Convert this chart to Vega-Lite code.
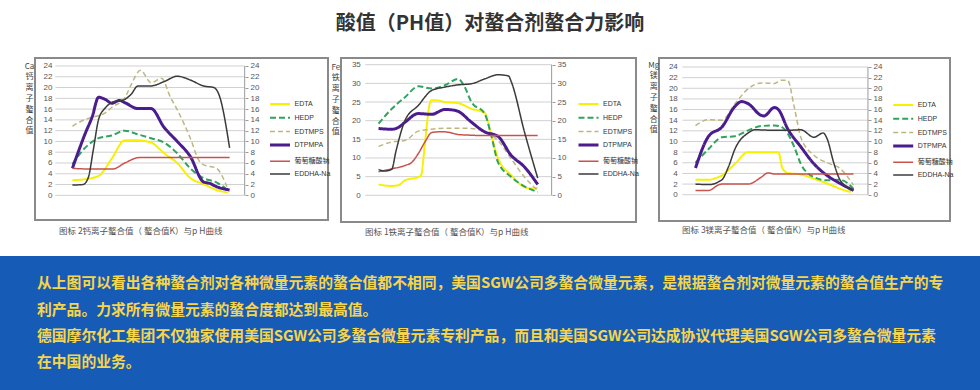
{
  "$schema": "https://vega.github.io/schema/vega-lite/v6.json",
  "background": "white",
  "autosize": "pad",
  "padding": {"top": 14, "left": 0, "right": 0, "bottom": 0},
  "title": {"text": "酸值（PH值）对螯合剂螯合力影响", "fontSize": 20, "font": "Noto Sans CJK SC", "fontWeight": "bold", "color": "#333333", "anchor": "middle", "offset": 23},
  "config": {
    "view": {"stroke": "#8a8a8a", "strokeWidth": 2, "fill": "white"},
    "axis": {"labelFont": "Liberation Sans", "labelFontSize": 8, "labelColor": "#555555", "tickColor": "#9a9a9a", "domainColor": "#9a9a9a", "titleFont": "Noto Sans CJK SC", "titleFontWeight": "normal", "titleColor": "#444444", "grid": false}
  },
  "datasets": {
    "g24": [{"g":0},{"g":2},{"g":4},{"g":6},{"g":8},{"g":10},{"g":12},{"g":14},{"g":16},{"g":18},{"g":20},{"g":22},{"g":24}],
    "g35": [{"g":0},{"g":5},{"g":10},{"g":15},{"g":20},{"g":25},{"g":30},{"g":35}],
    "ca": [
      {"s":"EDTA","ph":1,"v":2.8},{"s":"EDTA","ph":2,"v":3.0},{"s":"EDTA","ph":3,"v":3.6},{"s":"EDTA","ph":4,"v":6.8},{"s":"EDTA","ph":5,"v":10.2},{"s":"EDTA","ph":6,"v":10.2},{"s":"EDTA","ph":7,"v":9.8},{"s":"EDTA","ph":8,"v":7.8},{"s":"EDTA","ph":9,"v":6.0},{"s":"EDTA","ph":10,"v":3.2},{"s":"EDTA","ph":11,"v":2.1},{"s":"EDTA","ph":12,"v":1.0},{"s":"EDTA","ph":12.9,"v":0.5},
      {"s":"HEDP","ph":1,"v":5.8},{"s":"HEDP","ph":2,"v":8.9},{"s":"HEDP","ph":3,"v":10.6},{"s":"HEDP","ph":4,"v":11.1},{"s":"HEDP","ph":5,"v":12.0},{"s":"HEDP","ph":6,"v":11.3},{"s":"HEDP","ph":7,"v":10.6},{"s":"HEDP","ph":8,"v":9.8},{"s":"HEDP","ph":9,"v":7.8},{"s":"HEDP","ph":10,"v":5.0},{"s":"HEDP","ph":11,"v":3.2},{"s":"HEDP","ph":12,"v":2.4},{"s":"HEDP","ph":13,"v":0.7},
      {"s":"EDTMPS","ph":1,"v":12.8},{"s":"EDTMPS","ph":2,"v":14.1},{"s":"EDTMPS","ph":2.6,"v":14.5},{"s":"EDTMPS","ph":3.5,"v":15.3},{"s":"EDTMPS","ph":4,"v":16.3},{"s":"EDTMPS","ph":5,"v":18.1},{"s":"EDTMPS","ph":5.5,"v":20.6},{"s":"EDTMPS","ph":6.2,"v":23.2},{"s":"EDTMPS","ph":7,"v":20.9},{"s":"EDTMPS","ph":7.8,"v":21.7},{"s":"EDTMPS","ph":8.5,"v":18.1},{"s":"EDTMPS","ph":9,"v":15.9},{"s":"EDTMPS","ph":10,"v":10.6},{"s":"EDTMPS","ph":10.7,"v":6.3},{"s":"EDTMPS","ph":11,"v":5.7},{"s":"EDTMPS","ph":12,"v":5.0},{"s":"EDTMPS","ph":12.8,"v":1.6},
      {"s":"DTPMPA","ph":1,"v":5.0},{"s":"DTPMPA","ph":2,"v":11.6},{"s":"DTPMPA","ph":2.5,"v":14.5},{"s":"DTPMPA","ph":3,"v":18.2},{"s":"DTPMPA","ph":3.5,"v":17.8},{"s":"DTPMPA","ph":4,"v":17.1},{"s":"DTPMPA","ph":4.6,"v":17.6},{"s":"DTPMPA","ph":5,"v":17.2},{"s":"DTPMPA","ph":6,"v":16.1},{"s":"DTPMPA","ph":7,"v":16.1},{"s":"DTPMPA","ph":8,"v":12.6},{"s":"DTPMPA","ph":9,"v":10.0},{"s":"DTPMPA","ph":10,"v":7.2},{"s":"DTPMPA","ph":11,"v":2.5},{"s":"DTPMPA","ph":11.5,"v":2.2},{"s":"DTPMPA","ph":12,"v":1.6},{"s":"DTPMPA","ph":13,"v":1.0},
      {"s":"葡萄糖酸钠","ph":1,"v":5.0},{"s":"葡萄糖酸钠","ph":2,"v":4.9},{"s":"葡萄糖酸钠","ph":3,"v":4.9},{"s":"葡萄糖酸钠","ph":4.1,"v":4.9},{"s":"葡萄糖酸钠","ph":5,"v":6.0},{"s":"葡萄糖酸钠","ph":6.1,"v":7.0},{"s":"葡萄糖酸钠","ph":7,"v":7.0},{"s":"葡萄糖酸钠","ph":8,"v":7.0},{"s":"葡萄糖酸钠","ph":9,"v":7.0},{"s":"葡萄糖酸钠","ph":10,"v":7.0},{"s":"葡萄糖酸钠","ph":11,"v":7.0},{"s":"葡萄糖酸钠","ph":12,"v":7.0},{"s":"葡萄糖酸钠","ph":13,"v":7.0},
      {"s":"EDDHA-Na","ph":1,"v":1.9},{"s":"EDDHA-Na","ph":1.8,"v":2.0},{"s":"EDDHA-Na","ph":2.2,"v":3.2},{"s":"EDDHA-Na","ph":2.6,"v":8.5},{"s":"EDDHA-Na","ph":3,"v":14.1},{"s":"EDDHA-Na","ph":3.5,"v":16.2},{"s":"EDDHA-Na","ph":4,"v":17.2},{"s":"EDDHA-Na","ph":5,"v":17.8},{"s":"EDDHA-Na","ph":5.5,"v":18.8},{"s":"EDDHA-Na","ph":6,"v":20.3},{"s":"EDDHA-Na","ph":7,"v":20.3},{"s":"EDDHA-Na","ph":8,"v":21.1},{"s":"EDDHA-Na","ph":9,"v":22.1},{"s":"EDDHA-Na","ph":10,"v":21.4},{"s":"EDDHA-Na","ph":11,"v":20.3},{"s":"EDDHA-Na","ph":11.8,"v":20.0},{"s":"EDDHA-Na","ph":12.2,"v":18.6},{"s":"EDDHA-Na","ph":13,"v":8.8}
    ],
    "fe": [
      {"s":"EDTA","ph":1,"v":2.9},{"s":"EDTA","ph":2,"v":2.5},{"s":"EDTA","ph":2.5,"v":2.7},{"s":"EDTA","ph":3,"v":4.0},{"s":"EDTA","ph":4,"v":4.9},{"s":"EDTA","ph":4.2,"v":5.3},{"s":"EDTA","ph":4.5,"v":14.0},{"s":"EDTA","ph":4.8,"v":23.5},{"s":"EDTA","ph":5,"v":25.5},{"s":"EDTA","ph":5.5,"v":25.4},{"s":"EDTA","ph":6,"v":25.0},{"s":"EDTA","ph":7,"v":24.7},{"s":"EDTA","ph":8,"v":23.2},{"s":"EDTA","ph":9,"v":22.1},{"s":"EDTA","ph":9.5,"v":16.1},{"s":"EDTA","ph":10,"v":10.0},{"s":"EDTA","ph":11,"v":5.4},{"s":"EDTA","ph":12,"v":2.2},{"s":"EDTA","ph":12.5,"v":1.8},{"s":"EDTA","ph":13,"v":2.0},
      {"s":"HEDP","ph":1,"v":19.2},{"s":"HEDP","ph":2,"v":23.2},{"s":"HEDP","ph":3,"v":26.3},{"s":"HEDP","ph":4,"v":29.2},{"s":"HEDP","ph":5,"v":28.6},{"s":"HEDP","ph":6,"v":29.5},{"s":"HEDP","ph":7,"v":31.2},{"s":"HEDP","ph":7.5,"v":29.0},{"s":"HEDP","ph":8,"v":25.0},{"s":"HEDP","ph":9,"v":21.9},{"s":"HEDP","ph":9.5,"v":16.0},{"s":"HEDP","ph":10,"v":8.9},{"s":"HEDP","ph":11,"v":4.9},{"s":"HEDP","ph":12,"v":2.4},{"s":"HEDP","ph":13,"v":0.9},
      {"s":"EDTMPS","ph":1,"v":13.1},{"s":"EDTMPS","ph":2,"v":14.3},{"s":"EDTMPS","ph":3,"v":14.7},{"s":"EDTMPS","ph":4,"v":17.2},{"s":"EDTMPS","ph":5,"v":17.7},{"s":"EDTMPS","ph":6,"v":18.0},{"s":"EDTMPS","ph":7,"v":18.0},{"s":"EDTMPS","ph":8,"v":17.9},{"s":"EDTMPS","ph":9,"v":17.0},{"s":"EDTMPS","ph":10,"v":14.7},{"s":"EDTMPS","ph":11,"v":9.8},{"s":"EDTMPS","ph":12,"v":4.9},{"s":"EDTMPS","ph":13,"v":1.3},
      {"s":"DTPMPA","ph":1,"v":17.9},{"s":"DTPMPA","ph":2,"v":17.7},{"s":"DTPMPA","ph":2.5,"v":18.2},{"s":"DTPMPA","ph":3,"v":19.6},{"s":"DTPMPA","ph":4,"v":21.9},{"s":"DTPMPA","ph":5,"v":21.7},{"s":"DTPMPA","ph":6,"v":23.0},{"s":"DTPMPA","ph":6.5,"v":22.9},{"s":"DTPMPA","ph":7,"v":22.5},{"s":"DTPMPA","ph":8,"v":19.6},{"s":"DTPMPA","ph":9,"v":17.0},{"s":"DTPMPA","ph":10,"v":15.8},{"s":"DTPMPA","ph":11,"v":10.7},{"s":"DTPMPA","ph":12,"v":7.6},{"s":"DTPMPA","ph":13,"v":2.9},
      {"s":"葡萄糖酸钠","ph":1,"v":6.3},{"s":"葡萄糖酸钠","ph":2,"v":7.1},{"s":"葡萄糖酸钠","ph":3,"v":8.0},{"s":"葡萄糖酸钠","ph":3.5,"v":8.8},{"s":"葡萄糖酸钠","ph":4,"v":11.2},{"s":"葡萄糖酸钠","ph":4.5,"v":14.3},{"s":"葡萄糖酸钠","ph":5,"v":16.8},{"s":"葡萄糖酸钠","ph":5.5,"v":17.0},{"s":"葡萄糖酸钠","ph":6,"v":17.0},{"s":"葡萄糖酸钠","ph":7,"v":16.3},{"s":"葡萄糖酸钠","ph":8,"v":16.1},{"s":"葡萄糖酸钠","ph":9,"v":16.0},{"s":"葡萄糖酸钠","ph":10,"v":16.0},{"s":"葡萄糖酸钠","ph":11,"v":16.0},{"s":"葡萄糖酸钠","ph":12,"v":16.0},{"s":"葡萄糖酸钠","ph":13,"v":16.0},
      {"s":"EDDHA-Na","ph":1,"v":6.9},{"s":"EDDHA-Na","ph":1.5,"v":6.5},{"s":"EDDHA-Na","ph":2,"v":7.0},{"s":"EDDHA-Na","ph":2.3,"v":11.6},{"s":"EDDHA-Na","ph":3,"v":20.1},{"s":"EDDHA-Na","ph":4,"v":24.1},{"s":"EDDHA-Na","ph":5,"v":28.1},{"s":"EDDHA-Na","ph":6,"v":29.0},{"s":"EDDHA-Na","ph":7,"v":29.6},{"s":"EDDHA-Na","ph":8,"v":29.9},{"s":"EDDHA-Na","ph":9,"v":31.2},{"s":"EDDHA-Na","ph":10,"v":32.3},{"s":"EDDHA-Na","ph":10.8,"v":32.0},{"s":"EDDHA-Na","ph":11,"v":30.5},{"s":"EDDHA-Na","ph":12,"v":17.0},{"s":"EDDHA-Na","ph":13,"v":4.6}
    ],
    "mg": [
      {"s":"EDTA","ph":1,"v":2.8},{"s":"EDTA","ph":2,"v":2.8},{"s":"EDTA","ph":2.5,"v":3.1},{"s":"EDTA","ph":3,"v":3.6},{"s":"EDTA","ph":4,"v":5.8},{"s":"EDTA","ph":5,"v":8.0},{"s":"EDTA","ph":6,"v":8.0},{"s":"EDTA","ph":7,"v":8.0},{"s":"EDTA","ph":7.3,"v":8.0},{"s":"EDTA","ph":7.6,"v":5.0},{"s":"EDTA","ph":8,"v":4.1},{"s":"EDTA","ph":9,"v":3.8},{"s":"EDTA","ph":10,"v":3.0},{"s":"EDTA","ph":11,"v":2.1},{"s":"EDTA","ph":12,"v":1.1},{"s":"EDTA","ph":12.8,"v":0.5},
      {"s":"HEDP","ph":1,"v":6.0},{"s":"HEDP","ph":2,"v":8.6},{"s":"HEDP","ph":3,"v":10.8},{"s":"HEDP","ph":4,"v":11.0},{"s":"HEDP","ph":5,"v":12.1},{"s":"HEDP","ph":6,"v":12.9},{"s":"HEDP","ph":7,"v":13.0},{"s":"HEDP","ph":7.5,"v":12.8},{"s":"HEDP","ph":8,"v":11.5},{"s":"HEDP","ph":8.5,"v":9.0},{"s":"HEDP","ph":9,"v":5.8},{"s":"HEDP","ph":10,"v":3.3},{"s":"HEDP","ph":11,"v":2.7},{"s":"HEDP","ph":12,"v":2.8},{"s":"HEDP","ph":13,"v":1.1},
      {"s":"EDTMPS","ph":1,"v":13.0},{"s":"EDTMPS","ph":2,"v":14.1},{"s":"EDTMPS","ph":3,"v":14.0},{"s":"EDTMPS","ph":4,"v":17.1},{"s":"EDTMPS","ph":5,"v":19.9},{"s":"EDTMPS","ph":6,"v":21.0},{"s":"EDTMPS","ph":7,"v":20.9},{"s":"EDTMPS","ph":7.5,"v":21.5},{"s":"EDTMPS","ph":8,"v":21.5},{"s":"EDTMPS","ph":8.5,"v":16.5},{"s":"EDTMPS","ph":9,"v":10.8},{"s":"EDTMPS","ph":10,"v":7.4},{"s":"EDTMPS","ph":11,"v":6.0},{"s":"EDTMPS","ph":12,"v":4.9},{"s":"EDTMPS","ph":13,"v":1.8},
      {"s":"DTPMPA","ph":1,"v":5.0},{"s":"DTPMPA","ph":2,"v":11.0},{"s":"DTPMPA","ph":3,"v":12.7},{"s":"DTPMPA","ph":4,"v":16.6},{"s":"DTPMPA","ph":4.5,"v":17.5},{"s":"DTPMPA","ph":5,"v":17.1},{"s":"DTPMPA","ph":6,"v":14.9},{"s":"DTPMPA","ph":6.2,"v":14.8},{"s":"DTPMPA","ph":7,"v":16.4},{"s":"DTPMPA","ph":7.3,"v":16.0},{"s":"DTPMPA","ph":8,"v":12.4},{"s":"DTPMPA","ph":9,"v":9.0},{"s":"DTPMPA","ph":10,"v":5.8},{"s":"DTPMPA","ph":11,"v":3.6},{"s":"DTPMPA","ph":12,"v":2.1},{"s":"DTPMPA","ph":13,"v":0.8},
      {"s":"葡萄糖酸钠","ph":1,"v":0.8},{"s":"葡萄糖酸钠","ph":2,"v":0.8},{"s":"葡萄糖酸钠","ph":2.8,"v":1.9},{"s":"葡萄糖酸钠","ph":3,"v":2.0},{"s":"葡萄糖酸钠","ph":4,"v":2.0},{"s":"葡萄糖酸钠","ph":5,"v":2.0},{"s":"葡萄糖酸钠","ph":6,"v":3.3},{"s":"葡萄糖酸钠","ph":6.5,"v":4.1},{"s":"葡萄糖酸钠","ph":7,"v":3.9},{"s":"葡萄糖酸钠","ph":8,"v":3.9},{"s":"葡萄糖酸钠","ph":9,"v":3.9},{"s":"葡萄糖酸钠","ph":10,"v":3.9},{"s":"葡萄糖酸钠","ph":11,"v":3.9},{"s":"葡萄糖酸钠","ph":12,"v":3.9},{"s":"葡萄糖酸钠","ph":13,"v":3.9},
      {"s":"EDDHA-Na","ph":1,"v":2.0},{"s":"EDDHA-Na","ph":2,"v":1.9},{"s":"EDDHA-Na","ph":3,"v":2.8},{"s":"EDDHA-Na","ph":3.5,"v":5.2},{"s":"EDDHA-Na","ph":4,"v":8.6},{"s":"EDDHA-Na","ph":5,"v":11.6},{"s":"EDDHA-Na","ph":5.5,"v":12.2},{"s":"EDDHA-Na","ph":7,"v":12.1},{"s":"EDDHA-Na","ph":8,"v":12.1},{"s":"EDDHA-Na","ph":9,"v":12.2},{"s":"EDDHA-Na","ph":10,"v":10.8},{"s":"EDDHA-Na","ph":10.7,"v":11.6},{"s":"EDDHA-Na","ph":11,"v":10.5},{"s":"EDDHA-Na","ph":11.5,"v":6.0},{"s":"EDDHA-Na","ph":12,"v":2.7},{"s":"EDDHA-Na","ph":13,"v":0.8}
    ]
  },
  "vconcat": [
    {
      "hconcat": [
        {"width": 35, "height": 10, "view": {"stroke": null, "fill": null}, "data": {"values": []}, "mark": "point"},
        {
          "width": 293, "height": 162,
          "title": {"text": "图标 2钙离子螯合值（ 螯合值K）与p H曲线", "orient": "bottom", "anchor": "start", "frame": "group", "dx": 24, "offset": 11, "baseline": "middle", "fontSize": 8.5, "fontWeight": "normal", "color": "#555555", "font": "Noto Sans CJK SC"},
          "layer": [
            {"data": {"name": "g24"}, "mark": {"type": "rule", "color": "#d0d0d0", "strokeWidth": 1},
             "encoding": {
               "y": {"field": "g", "type": "quantitative", "scale": {"domain": [-4.58, 25.48], "nice": false, "zero": false}, "axis": {"orient": "right", "offset": -83, "values": [0,2,4,6,8,10,12,14,16,18,20,22,24], "domain": false, "ticks": true, "tickSize": 3, "labelPadding": 2, "title": null}},
               "x": {"datum": -0.3, "type": "quantitative", "scale": {"domain": [-1.855, 20.51], "nice": false, "zero": false}, "axis": null},
               "x2": {"datum": 14.15}}},
            {"data": {"values": [{}]}, "mark": {"type": "rule", "color": "#9a9a9a", "strokeWidth": 1},
             "encoding": {"x": {"datum": 14.15, "type": "quantitative", "axis": null}, "y": {"datum": 0, "type": "quantitative", "axis": null}, "y2": {"datum": 24}}},
            {"data": {"name": "ca"}, "mark": {"type": "line", "interpolate": "monotone"},
             "encoding": {
               "x": {"field": "ph", "type": "quantitative", "scale": {"domain": [-1.855, 20.51], "nice": false, "zero": false},
                     "axis": {"orient": "bottom", "offset": -24.7, "values": [0,1,2,3,4,5,6,7,8,9,10,11,12,13,14], "domain": false, "ticks": true, "tickSize": 3, "labelPadding": 3, "title": "pH值", "titleX": 218, "titleY": 12.4, "titleAlign": "left", "titleBaseline": "middle", "titleFontSize": 9, "titleColor": "#555555"}},
               "y": {"field": "v", "type": "quantitative", "scale": {"domain": [-4.58, 25.48], "nice": false, "zero": false},
                     "axis": {"orient": "left", "offset": -20, "values": [0,2,4,6,8,10,12,14,16,18,20,22,24], "domain": false, "ticks": false, "labelPadding": 3, "title": ["Ca", "钙", "离", "子", "螯", "合", "值"], "titleAngle": 0, "titleX": -26, "titleY": 4, "titleAlign": "center", "titleBaseline": "top", "titleLineHeight": 10.8, "titleFontSize": 8}},
               "color": {"field": "s", "type": "nominal", "scale": {"domain": ["EDTA","HEDP","EDTMPS","DTPMPA","葡萄糖酸钠","EDDHA-Na"], "range": ["#F7F000","#2FA35F","#BDB77F","#4B1C8E","#C8524C","#3B3B3B"]},
                         "legend": {"title": null, "orient": "none", "legendX": 238.5, "legendY": 40, "symbolType": "M-2,0H2", "symbolSize": 100, "labelFont": "Liberation Sans, Noto Sans CJK SC", "labelFontSize": 7, "labelColor": "#333333", "labelOffset": 8, "rowPadding": 3.8, "padding": 0}},
               "strokeDash": {"field": "s", "type": "nominal", "scale": {"domain": ["EDTA","HEDP","EDTMPS","DTPMPA","葡萄糖酸钠","EDDHA-Na"], "range": [[1,0],[6,3],[5,3],[1,0],[1,0],[1,0]]},
                         "legend": {"title": null, "orient": "none", "legendX": 238.5, "legendY": 40, "symbolType": "M-2,0H2", "symbolSize": 100, "labelFont": "Liberation Sans, Noto Sans CJK SC", "labelFontSize": 7, "labelColor": "#333333", "labelOffset": 8, "rowPadding": 3.8, "padding": 0}},
               "strokeWidth": {"field": "s", "type": "nominal", "scale": {"type": "ordinal", "domain": ["EDTA","HEDP","EDTMPS","DTPMPA","葡萄糖酸钠","EDDHA-Na"], "range": [2,2,1.5,3,1.5,1.5]},
                         "legend": {"title": null, "orient": "none", "legendX": 238.5, "legendY": 40, "symbolType": "M-2,0H2", "symbolSize": 100, "labelFont": "Liberation Sans, Noto Sans CJK SC", "labelFontSize": 7, "labelColor": "#333333", "labelOffset": 8, "rowPadding": 3.8, "padding": 0}}
             }}
          ],
          "resolve": {"axis": {"y": "independent"}}
        },
        {"width": 13, "height": 10, "view": {"stroke": null, "fill": null}, "data": {"values": []}, "mark": "point"},
        {
          "width": 295, "height": 164,
          "title": {"text": "图标 1铁离子螯合值（ 螯合值K）与p H曲线", "orient": "bottom", "anchor": "start", "frame": "group", "dx": 24, "offset": 10, "baseline": "middle", "fontSize": 8.5, "fontWeight": "normal", "color": "#555555", "font": "Noto Sans CJK SC"},
          "layer": [
            {"data": {"name": "g35"}, "mark": {"type": "rule", "color": "#d0d0d0", "strokeWidth": 1},
             "encoding": {
               "y": {"field": "g", "type": "quantitative", "scale": {"domain": [-7.16, 36.8], "nice": false, "zero": false}, "axis": {"orient": "right", "offset": -84, "values": [0,5,10,15,20,25,30,35], "domain": false, "ticks": true, "tickSize": 3, "labelPadding": 2, "title": null}},
               "x": {"datum": 0, "type": "quantitative", "scale": {"domain": [-1.83, 20.41], "nice": false, "zero": false}, "axis": null},
               "x2": {"datum": 14.05}}},
            {"data": {"values": [{}]}, "mark": {"type": "rule", "color": "#9a9a9a", "strokeWidth": 1},
             "encoding": {"x": {"datum": 14.05, "type": "quantitative", "axis": null}, "y": {"datum": 0, "type": "quantitative", "axis": null}, "y2": {"datum": 35}}},
            {"data": {"name": "fe"}, "mark": {"type": "line", "interpolate": "monotone"},
             "encoding": {
               "x": {"field": "ph", "type": "quantitative", "scale": {"domain": [-1.83, 20.41], "nice": false, "zero": false},
                     "axis": {"orient": "bottom", "offset": -26.7, "values": [0,1,2,3,4,5,6,7,8,9,10,11,12,13,14], "domain": false, "ticks": true, "tickSize": 3, "labelPadding": 3, "title": "pH值", "titleX": 219, "titleY": 10.7, "titleAlign": "left", "titleBaseline": "middle", "titleFontSize": 9, "titleColor": "#555555"}},
               "y": {"field": "v", "type": "quantitative", "scale": {"domain": [-7.16, 36.8], "nice": false, "zero": false},
                     "axis": {"orient": "left", "offset": -24.3, "values": [0,5,10,15,20,25,30,35], "domain": false, "ticks": false, "labelPadding": 5, "title": ["Fe", "铁", "离", "子", "螯", "合", "值"], "titleAngle": 0, "titleX": -30, "titleY": 5, "titleAlign": "center", "titleBaseline": "top", "titleLineHeight": 10.8, "titleFontSize": 8}},
               "color": {"field": "s", "type": "nominal", "scale": {"domain": ["EDTA","HEDP","EDTMPS","DTPMPA","葡萄糖酸钠","EDDHA-Na"], "range": ["#F7F000","#2FA35F","#BDB77F","#4B1C8E","#C8524C","#3B3B3B"]},
                         "legend": {"title": null, "orient": "none", "legendX": 241, "legendY": 40, "symbolType": "M-2,0H2", "symbolSize": 100, "labelFont": "Liberation Sans, Noto Sans CJK SC", "labelFontSize": 7, "labelColor": "#333333", "labelOffset": 8, "rowPadding": 3.8, "padding": 0}},
               "strokeDash": {"field": "s", "type": "nominal", "scale": {"domain": ["EDTA","HEDP","EDTMPS","DTPMPA","葡萄糖酸钠","EDDHA-Na"], "range": [[1,0],[6,3],[5,3],[1,0],[1,0],[1,0]]},
                         "legend": {"title": null, "orient": "none", "legendX": 241, "legendY": 40, "symbolType": "M-2,0H2", "symbolSize": 100, "labelFont": "Liberation Sans, Noto Sans CJK SC", "labelFontSize": 7, "labelColor": "#333333", "labelOffset": 8, "rowPadding": 3.8, "padding": 0}},
               "strokeWidth": {"field": "s", "type": "nominal", "scale": {"type": "ordinal", "domain": ["EDTA","HEDP","EDTMPS","DTPMPA","葡萄糖酸钠","EDDHA-Na"], "range": [2,2,1.5,3,1.5,1.5]},
                         "legend": {"title": null, "orient": "none", "legendX": 241, "legendY": 40, "symbolType": "M-2,0H2", "symbolSize": 100, "labelFont": "Liberation Sans, Noto Sans CJK SC", "labelFontSize": 7, "labelColor": "#333333", "labelOffset": 8, "rowPadding": 3.8, "padding": 0}}
             }}
          ],
          "resolve": {"axis": {"y": "independent"}}
        },
        {"width": 23, "height": 10, "view": {"stroke": null, "fill": null}, "data": {"values": []}, "mark": "point"},
        {
          "width": 291, "height": 163,
          "title": {"text": "图标 3镁离子螯合值（ 螯合值K）与p H曲线", "orient": "bottom", "anchor": "start", "frame": "group", "dx": 23, "offset": 9, "baseline": "middle", "fontSize": 8.5, "fontWeight": "normal", "color": "#555555", "font": "Noto Sans CJK SC"},
          "layer": [
            {"data": {"name": "g24"}, "mark": {"type": "rule", "color": "#d0d0d0", "strokeWidth": 1},
             "encoding": {
               "y": {"field": "g", "type": "quantitative", "scale": {"domain": [-4.94, 25.69], "nice": false, "zero": false}, "axis": {"orient": "right", "offset": -82, "values": [0,2,4,6,8,10,12,14,16,18,20,22,24], "domain": false, "ticks": true, "tickSize": 3, "labelPadding": 2, "title": null}},
               "x": {"datum": 0, "type": "quantitative", "scale": {"domain": [-1.77, 20.33], "nice": false, "zero": false}, "axis": null},
               "x2": {"datum": 14.1}}},
            {"data": {"values": [{}]}, "mark": {"type": "rule", "color": "#9a9a9a", "strokeWidth": 1},
             "encoding": {"x": {"datum": 14.1, "type": "quantitative", "axis": null}, "y": {"datum": 0, "type": "quantitative", "axis": null}, "y2": {"datum": 24}}},
            {"data": {"name": "mg"}, "mark": {"type": "line", "interpolate": "monotone"},
             "encoding": {
               "x": {"field": "ph", "type": "quantitative", "scale": {"domain": [-1.77, 20.33], "nice": false, "zero": false},
                     "axis": {"orient": "bottom", "offset": -26.3, "values": [0,1,2,3,4,5,6,7,8,9,10,11,12,13,14], "domain": false, "ticks": true, "tickSize": 3, "labelPadding": 3, "title": "pH值", "titleX": 216, "titleY": 11.6, "titleAlign": "left", "titleBaseline": "middle", "titleFontSize": 9, "titleColor": "#555555"}},
               "y": {"field": "v", "type": "quantitative", "scale": {"domain": [-4.94, 25.69], "nice": false, "zero": false},
                     "axis": {"orient": "left", "offset": -23.3, "values": [0,2,4,6,8,10,12,14,16,18,20,22,24], "domain": false, "ticks": false, "labelPadding": 5, "title": ["Mg", "镁", "离", "子", "螯", "合", "值"], "titleAngle": 0, "titleX": -29, "titleY": 3, "titleAlign": "center", "titleBaseline": "top", "titleLineHeight": 10.8, "titleFontSize": 8}},
               "color": {"field": "s", "type": "nominal", "scale": {"domain": ["EDTA","HEDP","EDTMPS","DTPMPA","葡萄糖酸钠","EDDHA-Na"], "range": ["#F7F000","#2FA35F","#BDB77F","#4B1C8E","#C8524C","#3B3B3B"]},
                         "legend": {"title": null, "orient": "none", "legendX": 237.7, "legendY": 41, "symbolType": "M-2,0H2", "symbolSize": 100, "labelFont": "Liberation Sans, Noto Sans CJK SC", "labelFontSize": 7, "labelColor": "#333333", "labelOffset": 8, "rowPadding": 3.8, "padding": 0}},
               "strokeDash": {"field": "s", "type": "nominal", "scale": {"domain": ["EDTA","HEDP","EDTMPS","DTPMPA","葡萄糖酸钠","EDDHA-Na"], "range": [[1,0],[6,3],[5,3],[1,0],[1,0],[1,0]]},
                         "legend": {"title": null, "orient": "none", "legendX": 237.7, "legendY": 41, "symbolType": "M-2,0H2", "symbolSize": 100, "labelFont": "Liberation Sans, Noto Sans CJK SC", "labelFontSize": 7, "labelColor": "#333333", "labelOffset": 8, "rowPadding": 3.8, "padding": 0}},
               "strokeWidth": {"field": "s", "type": "nominal", "scale": {"type": "ordinal", "domain": ["EDTA","HEDP","EDTMPS","DTPMPA","葡萄糖酸钠","EDDHA-Na"], "range": [2,2,1.5,3,1.5,1.5]},
                         "legend": {"title": null, "orient": "none", "legendX": 237.7, "legendY": 41, "symbolType": "M-2,0H2", "symbolSize": 100, "labelFont": "Liberation Sans, Noto Sans CJK SC", "labelFontSize": 7, "labelColor": "#333333", "labelOffset": 8, "rowPadding": 3.8, "padding": 0}}
             }}
          ],
          "resolve": {"axis": {"y": "independent"}}
        }
      ],
      "spacing": 0,
      "bounds": "flush",
      "resolve": {"scale": {"color": "independent", "strokeDash": "independent", "strokeWidth": "independent"}}
    },
    {
      "width": 980, "height": 135,
      "view": {"fill": "#165CB6", "stroke": null},
      "data": {"values": []},
      "mark": "text",
      "title": {
        "text": [
          "从上图可以看出各种螯合剂对各种微量元素的螯合值都不相同，美国SGW公司多螯合微量元素，是根据螯合剂对微量元素的螯合值生产的专",
          "利产品。力求所有微量元素的螯合度都达到最高值。",
          "德国摩尔化工集团不仅独家使用美国SGW公司多螯合微量元素专利产品，而且和美国SGW公司达成协议代理美国SGW公司多螯合微量元素",
          "在中国的业务。"
        ],
        "orient": "top", "anchor": "start", "frame": "group", "dx": 37, "offset": -114, "baseline": "top", "lineHeight": 26.3,
        "fontSize": 14.8, "font": "Noto Sans CJK SC", "fontWeight": "bold", "color": "#F6D54B"
      }
    }
  ],
  "spacing": 18
}
